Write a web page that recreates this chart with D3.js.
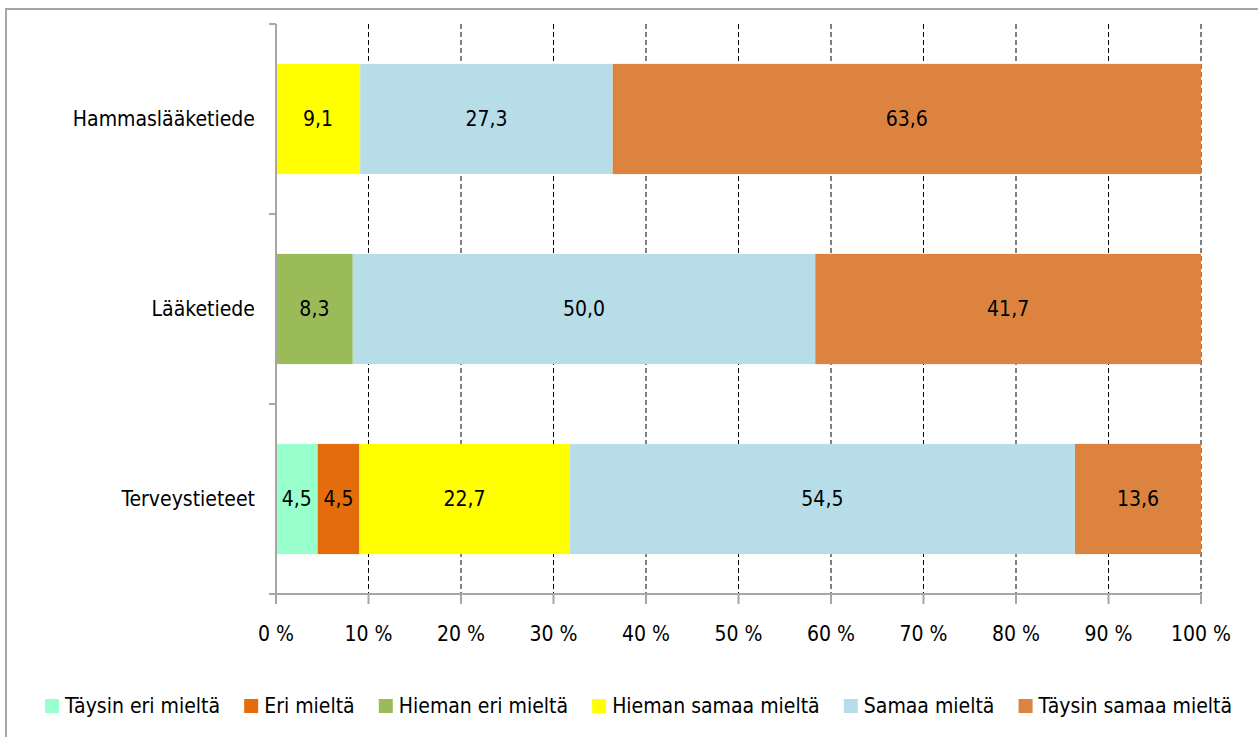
<!DOCTYPE html>
<html>
<head>
<meta charset="utf-8">
<script src="https://cdn.jsdelivr.net/npm/d3@7"></script>
<style>
  body { margin: 0; background: #fff; }
  svg { display: block; font-family: "DejaVu Sans Condensed", sans-serif; }
</style>
</head>
<body>
<div id="chart"></div>
<script>
const categories = ["Hammaslääketiede", "Lääketiede", "Terveystieteet"];
const seriesNames = ["Täysin eri mieltä", "Eri mieltä", "Hieman eri mieltä", "Hieman samaa mieltä", "Samaa mieltä", "Täysin samaa mieltä"];
const seriesColors = ["#99FFCC", "#E46C0A", "#9BBB59", "#FFFF00", "#B7DEE8", "#DC843F"];
// values per series, in category order
const taysinEri = [0, 0, 4.5];
const eri = [0, 0, 4.5];
const hiemanEri = [0, 8.3, 0];
const hiemanSamaa = [9.1, 0, 22.7];
const samaa = [27.3, 50.0, 54.5];
const taysinSamaa = [63.6, 41.7, 13.6];
const xTicks = [0, 10, 20, 30, 40, 50, 60, 70, 80, 90, 100];

const seriesValues = [taysinEri, eri, hiemanEri, hiemanSamaa, samaa, taysinSamaa];

const W = 1258, H = 737;
const margin = { top: 24, left: 276, right: 57, bottom: 143 };
const width = W - margin.left - margin.right;
const height = H - margin.top - margin.bottom;
const fs = "21px";

const svg = d3.select("#chart").append("svg")
    .attr("width", W)
    .attr("height", H);

// outer chart border
svg.append("rect")
    .attr("x", 6).attr("y", 9)
    .attr("width", W).attr("height", H)
    .attr("fill", "none")
    .attr("stroke", "#A6A6A6")
    .attr("stroke-width", 2);

const g = svg.append("g")
    .attr("transform", `translate(${margin.left},${margin.top})`);

const x = d3.scaleLinear().domain([0, 100]).range([0, width]);
const y = d3.scaleBand().domain(categories).range([0, height]).paddingInner(0.42).paddingOuter(0.21);

// dashed gridlines
g.append("g")
    .selectAll("line")
    .data(xTicks.filter(d => d > 0))
    .join("line")
    .attr("x1", d => x(d)).attr("x2", d => x(d))
    .attr("y1", 0).attr("y2", height)
    .attr("stroke", "#000")
    .attr("stroke-width", 1)
    .attr("stroke-dasharray", "5,3");

// 100% stacked bars
const rows = categories.map((c, i) => {
    const row = { cat: c };
    seriesNames.forEach((s, j) => row[s] = seriesValues[j][i]);
    return row;
});
const stack = d3.stack().keys(seriesNames).offset(d3.stackOffsetExpand)(rows);

const layer = g.append("g")
    .selectAll("g")
    .data(stack.map((s, i) => s.map(p => Object.assign(p, { value: seriesValues[i][categories.indexOf(p.data.cat)] }))))
    .join("g")
    .attr("fill", (d, i) => seriesColors[i]);

layer.selectAll("rect")
    .data(d => d)
    .join("rect")
    .attr("x", d => x(d[0] * 100))
    .attr("y", d => y(d.data.cat))
    .attr("width", d => x(d[1] * 100) - x(d[0] * 100))
    .attr("height", y.bandwidth());

layer.selectAll("text")
    .data(d => d.filter(p => p.value > 0))
    .join("text")
    .attr("x", d => (x(d[0] * 100) + x(d[1] * 100)) / 2)
    .attr("y", d => y(d.data.cat) + y.bandwidth() / 2)
    .attr("dy", "0.35em")
    .attr("text-anchor", "middle")
    .attr("fill", "#000")
    .style("font-size", fs)
    .text(d => d3.format(".1f")(d.value).replace(".", ","));

// y axis
const yAxis = g.append("g");
yAxis.append("line")
    .attr("x1", 0).attr("x2", 0).attr("y1", 0).attr("y2", height)
    .attr("stroke", "#A6A6A6").attr("stroke-width", 2);
const yTickPos = [0, ...categories.slice(0, -1).map(c => y(c) + y.bandwidth() + y.step() * y.paddingInner() / 2), height];
yAxis.selectAll(".yt")
    .data(yTickPos)
    .join("line")
    .attr("x1", -7).attr("x2", 0)
    .attr("y1", d => d).attr("y2", d => d)
    .attr("stroke", "#A6A6A6").attr("stroke-width", 2);
yAxis.selectAll("text")
    .data(categories)
    .join("text")
    .attr("x", -21)
    .attr("y", d => y(d) + y.bandwidth() / 2)
    .attr("dy", "0.35em")
    .attr("text-anchor", "end")
    .style("font-size", fs)
    .text(d => d);

// x axis
const xAxis = g.append("g").attr("transform", `translate(0,${height})`);
xAxis.append("line")
    .attr("x1", -7).attr("x2", width)
    .attr("stroke", "#A6A6A6").attr("stroke-width", 2);
xAxis.selectAll(".xt")
    .data(xTicks)
    .join("line")
    .attr("x1", d => x(d)).attr("x2", d => x(d))
    .attr("y1", 0).attr("y2", 10)
    .attr("stroke", "#A6A6A6").attr("stroke-width", 2);
xAxis.selectAll("text")
    .data(xTicks)
    .join("text")
    .attr("x", d => x(d))
    .attr("y", 40)
    .attr("dy", "0.35em")
    .attr("text-anchor", "middle")
    .style("font-size", fs)
    .text(d => d + " %");

// legend
const legend = svg.append("g").attr("transform", "translate(0,706)");
const items = legend.selectAll("g")
    .data(seriesNames)
    .join("g");
items.append("rect")
    .attr("y", -7).attr("width", 14).attr("height", 14)
    .attr("fill", (d, i) => seriesColors[i]);
items.append("text")
    .attr("x", 20)
    .attr("dy", "0.35em")
    .style("font-size", fs)
    .text(d => d);
const widths = [];
items.each(function() { widths.push(this.getBBox().width); });
const left = 45, right = 1232;
const gap = (right - left - d3.sum(widths)) / (widths.length - 1);
let cx = left;
items.attr("transform", (d, i) => {
    const t = `translate(${cx},0)`;
    cx += widths[i] + gap;
    return t;
});
</script>
</body>
</html>
